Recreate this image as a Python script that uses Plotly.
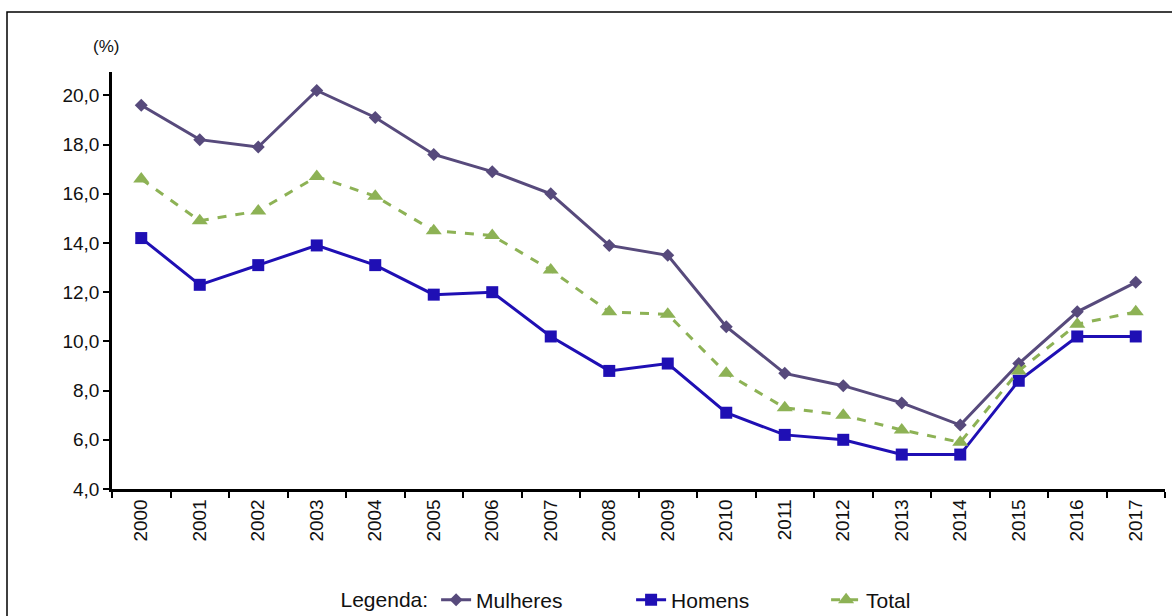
import plotly.graph_objects as go

years = [str(y) for y in range(2000, 2018)]
mulheres = [19.6, 18.2, 17.9, 20.2, 19.1, 17.6, 16.9, 16.0, 13.9, 13.5, 10.6, 8.7, 8.2, 7.5, 6.6, 9.1, 11.2, 12.4]
homens = [14.2, 12.3, 13.1, 13.9, 13.1, 11.9, 12.0, 10.2, 8.8, 9.1, 7.1, 6.2, 6.0, 5.4, 5.4, 8.4, 10.2, 10.2]
total = [16.6, 14.9, 15.3, 16.7, 15.9, 14.5, 14.3, 12.9, 11.2, 11.1, 8.7, 7.3, 7.0, 6.4, 5.9, 8.8, 10.7, 11.2]
y_ticks = [4, 6, 8, 10, 12, 14, 16, 18, 20]

FONT = "Liberation Sans, Arial, sans-serif"

fig = go.Figure()
fig.add_trace(go.Scatter(
    x=years, y=mulheres, name="Mulheres", mode="lines+markers",
    line=dict(color="#574a7c", width=3),
    marker=dict(symbol="diamond", size=10, color="#574a7c"),
))
fig.add_trace(go.Scatter(
    x=years, y=homens, name="Homens", mode="lines+markers",
    line=dict(color="#1f0fb4", width=3),
    marker=dict(symbol="square", size=12, color="#1f0fb4"),
))
fig.add_trace(go.Scatter(
    x=years, y=total, name="Total", mode="lines+markers",
    line=dict(color="#8db255", width=3, dash="dash"),
    marker=dict(symbol="triangle-up", size=14, color="#8db255"),
))

L, R, T, B = 112, 7, 72, 127
W, H = 1172, 616
pw = W - L - R
ph = H - T - B

fig.update_layout(
    width=W, height=H,
    margin=dict(l=L, r=R, t=T, b=B, pad=0, autoexpand=False),
    paper_bgcolor="white", plot_bgcolor="white",
    separators=",.",
    font=dict(family=FONT, color="#111111", size=19),
    showlegend=True,
    legend=dict(
        orientation="h", x=(680 - L) / pw, xanchor="center", y=(489 - 600) / ph, yanchor="middle",
        title=dict(text="Legenda:", side="left", font=dict(size=21)),
        font=dict(size=21), entrywidth=150, traceorder="normal",
    ),
    xaxis=dict(
        type="category", range=[-0.5, 17.5], showgrid=False,
        showline=True, linecolor="black", linewidth=2.5,
        ticks="outside", tickson="boundaries", ticklen=6, tickwidth=2, tickcolor="black",
        tickangle=-90, tickfont=dict(size=19),
    ),
    yaxis=dict(
        range=[4, 20.95], showgrid=False, zeroline=False,
        showline=True, linecolor="black", linewidth=2.5,
        ticks="outside", ticklen=6, tickwidth=2, tickcolor="black",
        tickvals=y_ticks, tickformat=".1f", tickfont=dict(size=19),
    ),
    annotations=[dict(
        text="(%)", xref="paper", yref="paper",
        x=(106 - L) / pw, y=(489 - 47) / ph, xanchor="center", yanchor="middle",
        showarrow=False, font=dict(size=17),
    )],
    shapes=[dict(
        type="rect", xref="paper", yref="paper",
        x0=(7 - L) / pw, x1=(W + 20 - L) / pw,
        y0=(489 - (H + 20)) / ph, y1=(489 - 12) / ph,
        line=dict(color="black", width=1.5), fillcolor="rgba(0,0,0,0)", layer="below",
    )],
)

fig.write_html("out.html")
